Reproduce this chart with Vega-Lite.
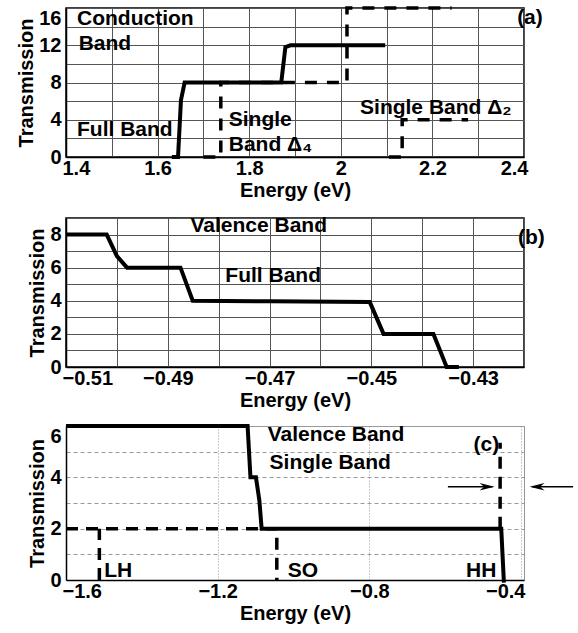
{
  "$schema": "https://vega.github.io/schema/vega-lite/v6.json",
  "padding": {"left": 16, "top": 0, "right": 0, "bottom": 0},
  "spacing": 6,
  "config": {
    "font": "Liberation Sans",
    "axis": {
      "labelFont": "Liberation Sans", "labelFontSize": 20, "labelFontWeight": "bold", "labelColor": "black",
      "titleFont": "Liberation Sans", "titleFontSize": 20, "titleFontWeight": "bold", "titleColor": "black",
      "domainColor": "black", "domainWidth": 1.5, "ticks": false, "labelOverlap": false,
      "grid": true, "gridColor": "#555", "gridOpacity": 1, "gridWidth": 1
    },
    "axisX": {"labelPadding": 1, "titlePadding": 2, "labelFlush": 5, "labelFlushOffset": 4},
    "axisY": {"labelPadding": 5, "titlePadding": 2},
    "view": {"stroke": "black", "strokeWidth": 1.5},
    "text": {"font": "Liberation Sans", "fontWeight": "bold", "fontSize": 21, "color": "black", "baseline": "middle", "align": "left"}
  },
  "vconcat": [
    {
      "width": 458, "height": 149,
      "encoding": {
        "x": {"field": "x", "type": "quantitative",
          "scale": {"domain": [1.4, 2.4], "nice": false, "zero": false},
          "axis": {"title": "Energy (eV)", "values": [1.4, 1.5, 1.6, 1.7, 1.8, 1.9, 2.0, 2.1, 2.2, 2.3, 2.4],
            "grid": true, "gridColor": "#555", "gridWidth": 1,
            "labelExpr": "round(datum.value*10) % 2 == 0 ? format(datum.value, '~g') : ''"}},
        "y": {"field": "y", "type": "quantitative",
          "scale": {"domain": [0, 16], "nice": false, "zero": false},
          "axis": {"title": "Transmission", "values": [0, 2, 4, 6, 8, 10, 12, 14, 16],
            "grid": true, "gridColor": "#555", "gridWidth": 1,
            "labelExpr": "datum.value % 4 == 0 ? datum.label : ''",
            "labelBaseline": {"condition": {"test": "datum.value == 16", "value": "top"}, "value": "middle"}}}
      },
      "layer": [
        {
          "data": {"values": [
            {"x": 1.631, "y": 0, "i": 0}, {"x": 1.6446, "y": 0, "i": 1}, {"x": 1.651, "y": 6.1, "i": 2},
            {"x": 1.659, "y": 8, "i": 3}, {"x": 1.870, "y": 8, "i": 4}, {"x": 1.879, "y": 11.8, "i": 5},
            {"x": 1.890, "y": 12, "i": 6}, {"x": 2.097, "y": 12, "i": 7}
          ]},
          "mark": {"type": "line", "color": "black", "strokeWidth": 4, "clip": false},
          "encoding": {"order": {"field": "i", "type": "quantitative"}}
        },
        {
          "data": {"values": [
            {"s": "d4", "x": 1.700, "y": 0, "i": 0}, {"s": "d4", "x": 1.738, "y": 0, "i": 1},
            {"s": "d4", "x": 1.738, "y": 8, "i": 2}, {"s": "d4", "x": 2.0135, "y": 8, "i": 3},
            {"s": "d4", "x": 2.0135, "y": 16, "i": 4}, {"s": "d4", "x": 2.242, "y": 16, "i": 5},
            {"s": "d2", "x": 2.105, "y": 0, "i": 0}, {"s": "d2", "x": 2.134, "y": 0, "i": 1},
            {"s": "d2", "x": 2.134, "y": 4, "i": 2}, {"s": "d2", "x": 2.278, "y": 4, "i": 3}
          ]},
          "mark": {"type": "line", "color": "black", "strokeWidth": 3.5, "strokeDash": [12, 10], "clip": false},
          "encoding": {"detail": {"field": "s"}, "order": {"field": "i", "type": "quantitative"}}
        },
        {
          "data": {"values": [
            {"x": 1.424, "y": 14.85, "t": "Conduction", "a": "left"},
            {"x": 1.4277, "y": 12.17, "t": "Band", "a": "left"},
            {"x": 1.424, "y": 2.86, "t": "Full Band", "a": "left"},
            {"x": 1.7553, "y": 3.94, "t": "Single", "a": "left"},
            {"x": 1.7553, "y": 1.25, "t": "Band  Δ₄", "a": "left"},
            {"x": 2.042, "y": 5.26, "t": "Single Band Δ₂", "a": "left"},
            {"x": 2.385, "y": 14.97, "t": "(a)", "a": "right"}
          ]},
          "mark": {"type": "text", "clip": false},
          "encoding": {"text": {"field": "t"}, "align": {"field": "a", "type": "nominal", "scale": null}}
        }
      ]
    },
    {
      "width": 458, "height": 149,
      "encoding": {
        "x": {"field": "x", "type": "quantitative",
          "scale": {"domain": [-0.51, -0.42], "nice": false, "zero": false},
          "axis": {"title": "Energy (eV)", "values": [-0.51, -0.50, -0.49, -0.48, -0.47, -0.46, -0.45, -0.44, -0.43, -0.42],
            "grid": true, "gridColor": "#555", "gridWidth": 1,
            "labelExpr": "abs(round(datum.value*100)) % 2 == 1 ? format(datum.value, '.2f') : ''"}},
        "y": {"field": "y", "type": "quantitative",
          "scale": {"domain": [0, 9], "nice": false, "zero": false},
          "axis": {"title": "Transmission", "values": [0, 1, 2, 3, 4, 5, 6, 7, 8, 9],
            "grid": true, "gridColor": "#555", "gridWidth": 1,
            "labelExpr": "datum.value % 2 == 0 ? datum.label : ''"}}
      },
      "layer": [
        {
          "data": {"values": [
            {"x": -0.510, "y": 8, "i": 0}, {"x": -0.502, "y": 8, "i": 1}, {"x": -0.500, "y": 6.7, "i": 2},
            {"x": -0.498, "y": 6, "i": 3}, {"x": -0.4875, "y": 6, "i": 4}, {"x": -0.4851, "y": 4, "i": 5},
            {"x": -0.470, "y": 3.97, "i": 6}, {"x": -0.4503, "y": 3.92, "i": 7}, {"x": -0.4476, "y": 2, "i": 8},
            {"x": -0.4378, "y": 2, "i": 9}, {"x": -0.4352, "y": 0, "i": 10}, {"x": -0.4328, "y": 0, "i": 11}
          ]},
          "mark": {"type": "line", "color": "black", "strokeWidth": 4, "clip": false},
          "encoding": {"order": {"field": "i", "type": "quantitative"}}
        },
        {
          "data": {"values": [
            {"x": -0.48555, "y": 8.5, "t": "Valence Band", "a": "left"},
            {"x": -0.47869, "y": 5.48, "t": "Full Band", "a": "left"},
            {"x": -0.4212, "y": 7.79, "t": "(b)", "a": "right"}
          ]},
          "mark": {"type": "text", "clip": false},
          "encoding": {"text": {"field": "t"}, "align": {"field": "a", "type": "nominal", "scale": null}}
        }
      ]
    },
    {
      "width": 458, "height": 154,
      "view": {"stroke": "#999", "strokeWidth": 1},
      "encoding": {
        "x": {"field": "x", "type": "quantitative",
          "scale": {"domain": [-1.6, -0.392], "nice": false, "zero": false},
          "axis": {"title": "Energy (eV)", "values": [-1.6, -1.2, -0.8, -0.4], "format": ".1f",
            "grid": true, "gridColor": "#999", "gridDash": [1, 2]}},
        "y": {"field": "y", "type": "quantitative",
          "scale": {"domain": [0, 6], "nice": false, "zero": false},
          "axis": {"title": "Transmission", "values": [0, 1, 2, 3, 4, 5, 6],
            "grid": true, "gridColor": "#999", "gridDash": [4, 3],
            "labelExpr": "datum.value % 2 == 0 ? datum.label : ''",
            "labelBaseline": {"condition": {"test": "datum.value == 6", "value": "top"}, "value": "middle"}}}
      },
      "layer": [
        {
          "data": {"values": [
            {"s": "m", "x": -1.6, "y": 2, "i": 0}, {"s": "m", "x": -1.044, "y": 2, "i": 1}, {"s": "m", "x": -1.044, "y": 0, "i": 2},
            {"s": "lh", "x": -1.512, "y": 0, "i": 0}, {"s": "lh", "x": -1.512, "y": 2, "i": 1},
            {"s": "hh", "x": -0.455, "y": 2, "i": 0}, {"s": "hh", "x": -0.455, "y": 5.35, "i": 1}
          ]},
          "mark": {"type": "line", "color": "black", "strokeWidth": 3.5, "strokeDash": [12, 8], "clip": false},
          "encoding": {"detail": {"field": "s"}, "order": {"field": "i", "type": "quantitative"}}
        },
        {
          "data": {"values": [
            {"x": -1.6, "y": 6, "i": 0}, {"x": -1.121, "y": 6, "i": 1}, {"x": -1.1135, "y": 4, "i": 2},
            {"x": -1.099, "y": 4, "i": 3}, {"x": -1.090, "y": 3.1, "i": 4}, {"x": -1.084, "y": 2, "i": 5},
            {"x": -0.452, "y": 2, "i": 6}, {"x": -0.445, "y": -0.1, "i": 7}
          ]},
          "mark": {"type": "line", "color": "black", "strokeWidth": 4, "clip": false},
          "encoding": {"order": {"field": "i", "type": "quantitative"}}
        },
        {
          "data": {"values": [
            {"x": -0.5927, "x2": -0.475, "y": 3.63},
            {"x": -0.2625, "x2": -0.370, "y": 3.63}
          ]},
          "mark": {"type": "rule", "color": "black", "strokeWidth": 1.5, "clip": false},
          "encoding": {"x2": {"field": "x2"}}
        },
        {
          "data": {"values": [
            {"x": -0.4697, "y": 3.63, "d": "M0,0 L-2,-0.5 L-1.4,0 L-2,0.5 Z"},
            {"x": -0.3773, "y": 3.63, "d": "M0,0 L2,-0.5 L1.4,0 L2,0.5 Z"}
          ]},
          "mark": {"type": "point", "filled": true, "color": "black", "size": 225, "opacity": 1, "clip": false},
          "encoding": {"shape": {"field": "d", "type": "nominal", "scale": null}}
        },
        {
          "data": {"values": [
            {"x": -1.068, "y": 5.66, "t": "Valence Band", "a": "left"},
            {"x": -1.063, "y": 4.56, "t": "Single Band", "a": "left"},
            {"x": -0.525, "y": 5.27, "t": "(c)", "a": "center"},
            {"x": -1.499, "y": 0.36, "t": "LH", "a": "left"},
            {"x": -1.015, "y": 0.36, "t": "SO", "a": "left"},
            {"x": -0.545, "y": 0.36, "t": "HH", "a": "left"}
          ]},
          "mark": {"type": "text", "clip": false},
          "encoding": {"text": {"field": "t"}, "align": {"field": "a", "type": "nominal", "scale": null}}
        }
      ]
    }
  ]
}
